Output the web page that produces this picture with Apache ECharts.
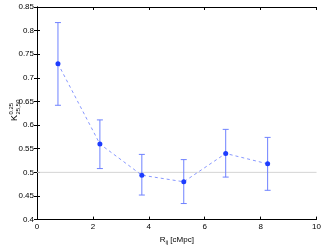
<!DOCTYPE html>
<html><head><meta charset="utf-8">
<script src="https://cdn.jsdelivr.net/npm/echarts@6/dist/echarts.min.js"></script>
<style>html,body{margin:0;padding:0;background:#fff}#c{width:324px;height:250px}</style>
</head><body><div id="c"></div>
<script>
var xValues = [0.75, 2.25, 3.75, 5.25, 6.75, 8.25];
var yValues = [0.730, 0.560, 0.494, 0.480, 0.540, 0.518];
var yUpper = [0.817, 0.611, 0.538, 0.527, 0.591, 0.574];
var yLower = [0.642, 0.508, 0.452, 0.434, 0.490, 0.462];
var refLine = 0.5;
var xTicks = [0, 2, 4, 6, 8, 10];
var yTicks = [0.4, 0.45, 0.5, 0.55, 0.6, 0.65, 0.7, 0.75, 0.8, 0.85];

var font = 'Liberation Sans';
var chart = echarts.init(document.getElementById('c'), null, {renderer: 'canvas'});
var pts = xValues.map(function (x, i) { return [x, yValues[i]]; });
var errs = xValues.map(function (x, i) { return [x, yLower[i], yUpper[i]]; });
var axisLineStyle = {color: '#000', width: 1};
chart.setOption({
  animation: false,
  grid: {left: 37, right: 7, top: 7, bottom: 23, containLabel: false},
  xAxis: [{
    type: 'value', min: 0, max: 10, interval: 2,
    axisLine: {lineStyle: axisLineStyle},
    axisTick: {inside: true, length: 3, lineStyle: {color: '#000'}},
    axisLabel: {fontFamily: font, fontSize: 8, color: '#000', margin: 3,
      formatter: function (v) { return xTicks.indexOf(v) >= 0 ? String(v) : ''; }},
    splitLine: {show: false},
    name: '{a|R}{b|ij}{a| [cMpc]}', nameLocation: 'middle', nameGap: 12,
    nameTextStyle: {rich: {a: {fontFamily: font, fontSize: 8, color: '#000'},
      b: {fontFamily: font, fontSize: 6, color: '#000', verticalAlign: 'bottom', padding: [5, 0, 0, 0]}}}
  }, {
    type: 'value', min: 0, max: 10, interval: 2, position: 'top',
    axisLine: {lineStyle: axisLineStyle},
    axisTick: {inside: true, length: 3, lineStyle: {color: '#000'}},
    axisLabel: {show: false}, splitLine: {show: false}
  }],
  yAxis: [{
    type: 'value', min: 0.4, max: 0.85, interval: 0.05,
    axisLine: {show: true, lineStyle: axisLineStyle},
    axisTick: {show: true, inside: true, length: 3, lineStyle: {color: '#000'}},
    axisLabel: {fontFamily: font, fontSize: 8, color: '#000', margin: 3,
      formatter: function (v) { return String(Math.round(v * 100) / 100); }},
    splitLine: {show: false}
  }, {
    type: 'value', min: 0.4, max: 0.85, interval: 0.05, position: 'right',
    axisLine: {show: true, lineStyle: axisLineStyle},
    axisTick: {show: true, inside: true, length: 3, lineStyle: {color: '#000'}},
    axisLabel: {show: false}, splitLine: {show: false}
  }],
  graphic: [{
    type: 'group', x: 15, y: 121, rotation: Math.PI / 2,
    children: [
      {type: 'text', x: 0, y: 0, style: {text: 'K', font: '9px "Liberation Sans"', fill: '#000', textAlign: 'left', textVerticalAlign: 'middle'}},
      {type: 'text', x: 6.5, y: -4, style: {text: '0.25', font: '6px "Liberation Sans"', fill: '#000', textAlign: 'left', textVerticalAlign: 'middle'}},
      {type: 'text', x: 6.5, y: 3, style: {text: '25,50', font: '6px "Liberation Sans"', fill: '#000', textAlign: 'left', textVerticalAlign: 'middle'}}
    ]
  }],
  series: [{
    type: 'line', data: [[0, refLine], [10, refLine]], symbol: 'none', silent: true,
    lineStyle: {color: '#d4d4d4', width: 1}, z: 1
  }, {
    type: 'custom', data: errs, z: 2,
    renderItem: function (params, api) {
      var x = api.value(0);
      var lo = api.coord([x, api.value(1)]);
      var hi = api.coord([x, api.value(2)]);
      var w = 3;
      var st = {stroke: '#6f82ff', lineWidth: 1};
      return {type: 'group', children: [
        {type: 'line', shape: {x1: lo[0], y1: lo[1], x2: hi[0], y2: hi[1]}, style: st},
        {type: 'line', shape: {x1: lo[0] - w, y1: lo[1], x2: lo[0] + w, y2: lo[1]}, style: st},
        {type: 'line', shape: {x1: hi[0] - w, y1: hi[1], x2: hi[0] + w, y2: hi[1]}, style: st}
      ]};
    }
  }, {
    type: 'line', data: pts, z: 3,
    symbol: 'circle', symbolSize: 5,
    itemStyle: {color: '#1d3cff'},
    lineStyle: {color: '#8797ff', width: 1, type: [3, 3]}
  }]
});
</script></body></html>
